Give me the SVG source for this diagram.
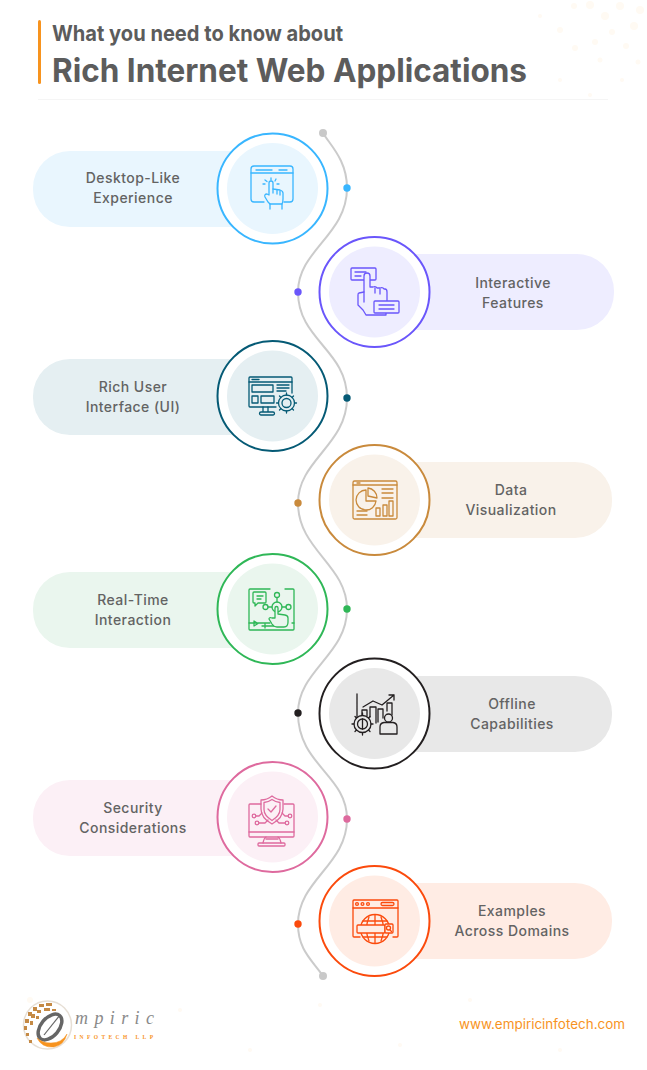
<svg xmlns="http://www.w3.org/2000/svg" width="647" height="1070" viewBox="0 0 647 1070">
<defs>
<style>
text{font-family:"Inter","Noto Sans","Liberation Sans",sans-serif}
.lbl{font-size:14px;font-weight:500;fill:#636363;text-anchor:middle;letter-spacing:.45px}
.h1{font-size:22px;font-weight:700;fill:#5c5c5c}
.h2{font-size:32px;font-weight:700;fill:#5c5c5c}
.ring{fill:#fff;stroke-width:2}
.ic{fill:none;stroke-width:1.3;stroke-linecap:round;stroke-linejoin:round}
.bgd{fill:#fffaf3}
</style>
</defs>
<rect width="647" height="1070" fill="#fff"/>
<g id="background-dots">
<circle class="bgd" cx="574" cy="6" r="3"/><circle class="bgd" cx="590" cy="5" r="4"/><circle class="bgd" cx="605" cy="16" r="4"/><circle class="bgd" cx="620" cy="6" r="4"/><circle class="bgd" cx="612" cy="32" r="3"/><circle class="bgd" cx="634" cy="26" r="4"/><circle class="bgd" cx="640" cy="10" r="4"/><circle class="bgd" cx="595" cy="42" r="3"/><circle class="bgd" cx="626" cy="46" r="3"/><circle class="bgd" cx="560" cy="30" r="3"/><circle class="bgd" cx="575" cy="48" r="3"/><circle class="bgd" cx="600" cy="60" r="2.500"/><circle class="bgd" cx="622" cy="80" r="2"/><circle class="bgd" cx="638" cy="62" r="2.500"/><circle class="bgd" cx="540" cy="16" r="2"/><circle class="bgd" cx="560" cy="80" r="2"/><circle class="bgd" cx="590" cy="95" r="2"/><circle class="bgd" cx="30" cy="1000" r="3"/><circle class="bgd" cx="180" cy="1010" r="2"/><circle class="bgd" cx="250" cy="1050" r="2"/><circle class="bgd" cx="320" cy="1005" r="2"/><circle class="bgd" cx="400" cy="1045" r="2"/><circle class="bgd" cx="470" cy="1000" r="2"/><circle class="bgd" cx="560" cy="1050" r="2"/>
</g>
<g id="header">
<rect x="38" y="20" width="3" height="64" rx="1.500" fill="#f7931e"/>
<text class="h1" x="52" y="41" textLength="291" lengthAdjust="spacingAndGlyphs">What you need to know about</text>
<text class="h2" x="52" y="82" textLength="475" lengthAdjust="spacingAndGlyphs">Rich Internet Web Applications</text>
<rect x="38" y="99" width="570" height="1" fill="#f5f5f5"/>
</g>
<g id="connectors" fill="none" stroke="#cbcbcb" stroke-width="2">
<path d="M323 133C330 145 347 160 347 188C347 235 298 250 298 292C298 340 347 350 347 398C347 445 298 460 298 503C298 550 347 565 347 609C347 655 298 670 298 713C298 765 347 775 347 819C347 865 298 880 298 924C298 950 312 960 323 976"/>
</g>
<g id="path-dots">
<circle cx="323" cy="133" r="4" fill="#c9c9c9"/><circle cx="323" cy="976" r="4" fill="#c9c9c9"/>
<circle cx="347" cy="188" r="3.700" fill="#39b6ff"/><circle cx="298" cy="292" r="3.700" fill="#6a56fb"/><circle cx="347" cy="398" r="3.700" fill="#055a75"/><circle cx="298" cy="503" r="3.700" fill="#c98a3c"/><circle cx="347" cy="609" r="3.700" fill="#2fb757"/><circle cx="298" cy="713" r="3.700" fill="#231f20"/><circle cx="347" cy="819" r="3.700" fill="#de6a9e"/><circle cx="298" cy="924" r="3.700" fill="#fb4a0c"/>
</g>

<g id="node-desktop">
<rect x="33" y="151" width="239" height="76" rx="37" fill="#e9f6fe"/>
<circle class="ring" cx="272.500" cy="188.500" r="55" stroke="#39b6ff"/><circle cx="272.500" cy="188.500" r="45.500" fill="#e9f6fe"/>
<text class="lbl" x="133" y="183">Desktop-Like</text><text class="lbl" x="133" y="203">Experience</text>
<g class="ic" stroke="#39b6ff"><path d="M264 202H254a3 3 0 0 1-3-3V169a3 3 0 0 1 3-3h36a3 3 0 0 1 3 3v30a3 3 0 0 1-3 3H284"/><path d="M251 173H293M256 170H272M279 170H287"/><path d="M270 204H282q1-2 1-5v-6q0-2-3-3l-7-1v-6a2 2 0 0 0-4 0v12l-2-1q-3 0-2 3l3 5z"/><path d="M270 204v5M282 204v5M273 189v4M277 190v4M280 191v4M271 178v2M265 180l2 1.500M263 184h2M276 179l-1 2M279 184h-2"/></g>
</g>

<g id="node-interactive">
<rect x="375" y="254" width="239" height="76" rx="37" fill="#eeedff"/>
<circle class="ring" cx="374.500" cy="292" r="55" stroke="#6a56fb"/><circle cx="374.500" cy="292" r="45.500" fill="#eeedff"/>
<text class="lbl" x="513" y="288">Interactive</text><text class="lbl" x="513" y="308">Features</text>
<g class="ic" stroke="#6a56fb"><rect x="351" y="268" width="25" height="12" rx="1"/><path d="M355 272H366M355 276H361"/><path d="M364 302V276a3 3 0 0 1 6 0v11h3q3-1 4 1h3q3-1 4 1h1q2 0 2 3v9" fill="#eeedff"/><path d="M375 288v5M380 289v5"/><path d="M364 292l-5 1q-1 0-1 2v10l5 5 3 5H386v-3"/><rect x="374" y="301" width="25" height="12" rx="1" fill="#eeedff"/><path d="M379 305H394M379 309H394"/></g>
</g>

<g id="node-rich-ui">
<rect x="33" y="359" width="239" height="76" rx="37" fill="#e5eff2"/>
<circle class="ring" cx="272.500" cy="396" r="55" stroke="#055a75"/><circle cx="272.500" cy="396" r="45.500" fill="#e5eff2"/>
<text class="lbl" x="133" y="392">Rich User</text><text class="lbl" x="133" y="412">Interface (UI)</text>
<g class="ic" stroke="#055a75"><path d="M276 407H250a1 1 0 0 1-1-1V378a1 1 0 0 1 1-1h41a1 1 0 0 1 1 1v15"/><path d="M249 382H292M252 379.500H259"/><rect x="252" y="385" width="21" height="7"/><path d="M277 385H289M277 388H289M277 391H286"/><rect x="252" y="396" width="6" height="7"/><rect x="261" y="396" width="13" height="7"/><path d="M263 407v5h5v-5M261 415h12a1.500 1.500 0 0 0 0-3h-12a1.500 1.500 0 0 0 0 3z"/><circle cx="286.500" cy="403" r="8" fill="#e5eff2"/><circle cx="286.500" cy="403" r="4.500"/><path d="M286.500 393v2M286.500 411v2M276.500 403h2M294.500 403h2M279.500 396l1.500 1.500M292 408.500l1.500 1.500M279.500 410l1.500-1.500M292 397.500l1.500-1.500"/></g>
</g>

<g id="node-data">
<rect x="375" y="462" width="237" height="76" rx="37" fill="#f9f2ea"/>
<circle class="ring" cx="374.500" cy="500" r="55" stroke="#c98a3c"/><circle cx="374.500" cy="500" r="45.500" fill="#f9f2ea"/>
<text class="lbl" x="511" y="495">Data</text><text class="lbl" x="511" y="515">Visualization</text>
<g class="ic" stroke="#c98a3c"><rect x="353" y="481" width="44" height="38" rx="1.500"/><path d="M353 485H397M357 483H360"/><path d="M366 490a10 10 0 1 0 10 11H366z"/><path d="M368 488a10 10 0 0 1 9 10l-9-2z"/><path d="M382 489H393M382 493H393M382 498H393M357 511H367M357 515H367"/><rect x="376" y="508" width="4" height="8"/><rect x="383" y="505" width="4" height="11"/><rect x="389" y="501" width="4" height="15"/></g>
</g>

<g id="node-realtime">
<rect x="33" y="572" width="239" height="76" rx="37" fill="#eaf6ee"/>
<circle class="ring" cx="272.500" cy="609" r="55" stroke="#2fb757"/><circle cx="272.500" cy="609" r="45.500" fill="#eaf6ee"/>
<text class="lbl" x="133" y="605">Real-Time</text><text class="lbl" x="133" y="625">Interaction</text>
<g class="ic" stroke="#2fb757"><path d="M270 589H250a1 1 0 0 0-1 1v39a1 1 0 0 0 1 1h43a1 1 0 0 0 1-1V590a1 1 0 0 0-1-1h-8"/><path d="M254 592h11a1 1 0 0 1 1 1v9a1 1 0 0 1-1 1h-7l-3 3v-3h-1a1 1 0 0 1-1-1v-9a1 1 0 0 1 1-1z"/><path d="M257 596H263M257 599H261"/><circle cx="277" cy="595" r="2.500"/><circle cx="265.500" cy="607" r="2.500"/><circle cx="288.500" cy="607" r="2.500"/><circle cx="277" cy="607" r="5"/><path d="M277 598v4M268 607h4M282 607h4"/><path d="M249 623H270M292 623h2M254 626v-5l4 2.500zM262 626H275M265 624v4"/><path d="M275 618v-10a1.500 1.500 0 0 1 3 0v6l7 1q3 .5 3 3v4q0 5-4 5H277q-3 0-5-3l-3-5q0-2 3-1z" fill="#eaf6ee"/></g>
</g>

<g id="node-offline">
<rect x="375" y="676" width="237" height="76" rx="37" fill="#e8e8e8"/>
<circle class="ring" cx="374.500" cy="713.500" r="55" stroke="#231f20"/><circle cx="374.500" cy="713.500" r="45.500" fill="#e8e8e8"/>
<text class="lbl" x="512" y="709">Offline</text><text class="lbl" x="512" y="729">Capabilities</text>
<g class="ic" stroke="#231f20"><path d="M357 694V720M363 707l10-6 9 4 12-10M389 695h5v5"/><path d="M362 716v-6h5v6M370 717V707h6v16M378 722V709h5v9M387 711V703h5v12"/><circle cx="362.500" cy="724" r="8.500" fill="#e8e8e8"/><circle cx="362.500" cy="724" r="5"/><path d="M362.500 719v10M362.500 713v2M362.500 733v2M352 724h2M371 724h2M355 716.500l1.500 1.500M368.500 730l1.500 1.500M355 731.500l1.500-1.500M368.500 718l1.500-1.500"/><path d="M380 734v-7q0-4 4-4.500h9q4 .5 4 4.500v7z" fill="#e8e8e8"/><circle cx="388.500" cy="718" r="4" fill="#e8e8e8"/></g>
</g>

<g id="node-security">
<rect x="33" y="780" width="239" height="76" rx="37" fill="#fcf0f6"/>
<circle class="ring" cx="272.500" cy="817" r="55" stroke="#de6a9e"/><circle cx="272.500" cy="817" r="45.500" fill="#fcf0f6"/>
<text class="lbl" x="133" y="813">Security</text><text class="lbl" x="133" y="833">Considerations</text>
<g class="ic" stroke="#de6a9e"><path d="M261 804H250a1 1 0 0 0-1 1v31a1 1 0 0 0 1 1h43a1 1 0 0 0 1-1V805a1 1 0 0 0-1-1h-9"/><path d="M249 832H294"/><path d="M272 796q5 4 11 4v9q0 9-11 15q-11-6-11-15v-9q6 0 11-4z"/><path d="M272 799.500q3.500 2.500 8 3v7q0 6-8 11q-8-5-8-11v-7q4.500-.5 8-3z"/><path d="M268 809l3 3 5-6"/><circle cx="254" cy="816" r="1.800"/><circle cx="290" cy="816" r="1.800"/><circle cx="257" cy="823" r="1.800"/><circle cx="287" cy="823" r="1.800"/><path d="M256 816h3l3-3M288 816h-3l-3-3M259 823h6l3-3M285 823h-6l-3-3"/><path d="M263 843q1-5 3-6M281 843q-1-5-3-6M266 839H278"/><rect x="258" y="843" width="27" height="3" rx="1"/></g>
</g>

<g id="node-examples">
<rect x="375" y="883" width="237" height="76" rx="37" fill="#ffece4"/>
<circle class="ring" cx="374.500" cy="921" r="55" stroke="#fb4a0c"/><circle cx="374.500" cy="921" r="45.500" fill="#ffece4"/>
<text class="lbl" x="512" y="916">Examples</text><text class="lbl" x="512" y="936">Across Domains</text>
<g class="ic" stroke="#fb4a0c"><path d="M360 937H354a1 1 0 0 1-1-1V901a1 1 0 0 1 1-1h43a1 1 0 0 1 1 1v35a1 1 0 0 1-1 1h-4"/><path d="M353 908H398"/><circle cx="357" cy="904" r="1.400"/><circle cx="362.500" cy="904" r="1.400"/><circle cx="368" cy="904" r="1.400"/><rect x="381" y="902.500" width="13" height="3" rx="1.500"/><circle cx="375" cy="929" r="14.500"/><path d="M375 915v28M369 917q-5 12 0 24M381 917q5 12 0 24M363 921H387M363 937H387"/><rect x="357" y="925" width="28" height="8" rx="1" fill="#ffece4"/><rect x="385" y="924" width="8" height="9" rx="1" fill="#ffece4"/><circle cx="388.500" cy="928" r="2"/><path d="M390 930l1.500 1.500"/></g>
</g>

<g id="footer">
<g id="logo">
<circle cx="47.500" cy="1025" r="24" fill="#fff" stroke="#e7dfd5" stroke-width="1.500"/>
<g fill="#c58a45"><rect x="28" y="1012" width="4" height="4"/><rect x="33" y="1007" width="4" height="4"/><rect x="39" y="1004" width="5" height="3"/><rect x="46" y="1003" width="6" height="3"/><rect x="25" y="1019" width="4" height="4"/><rect x="31" y="1014" width="4" height="4"/><rect x="37" y="1010" width="4" height="3"/><rect x="44" y="1008" width="6" height="3"/><rect x="52" y="1009" width="4" height="2"/><rect x="24" y="1026" width="3" height="4"/><rect x="30" y="1021" width="3" height="4"/><rect x="36" y="1016" width="3" height="3"/><rect x="26" y="1033" width="3" height="3"/><rect x="29" y="1040" width="3" height="3"/></g>
<ellipse cx="50" cy="1027" rx="9" ry="15" transform="rotate(40 50 1027)" fill="#fff" stroke="#666" stroke-width="3.500"/>
<path d="M37 1038q5 10 17 9q10-2 13-13q-5 9-16 9q-9 0-14-5z" fill="#f7931e" stroke="#f7931e" stroke-width=".5"/>
<path d="M44 1035L60 1015" stroke="#666" stroke-width="1.200"/>
<text x="75" y="1024" font-size="18" font-style="italic" fill="#8a8a8a" style="font-family:'Liberation Serif',serif" textLength="79">mpiric</text>
<text x="74" y="1039" font-size="5.500" font-weight="700" fill="#f7931e" style="font-family:'Liberation Serif',serif" textLength="79">INFOTECH LLP</text>
</g>
<text x="459" y="1029" font-size="13" fill="#f7931e" textLength="166" lengthAdjust="spacingAndGlyphs">www.empiricinfotech.com</text>
</g>
</svg>
